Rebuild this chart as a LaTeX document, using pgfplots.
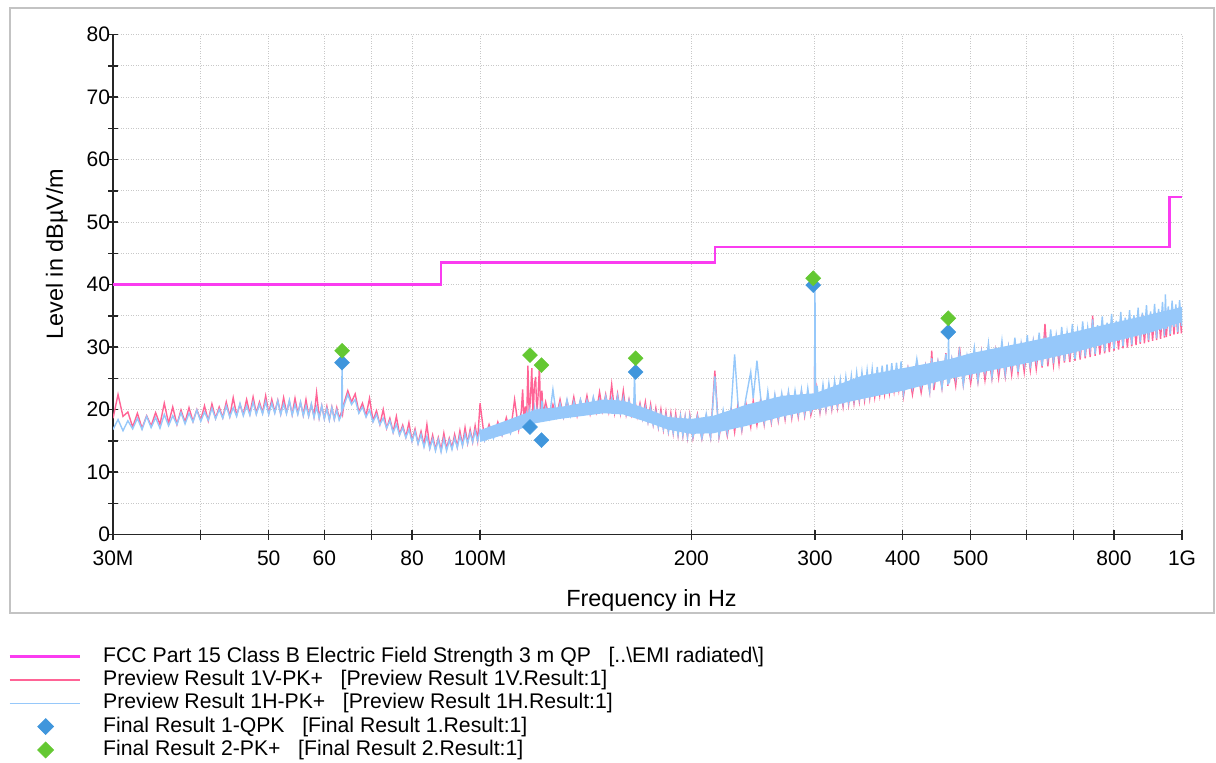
\documentclass[border=0pt]{standalone}
\usepackage{fontspec}
\setmainfont{Liberation Sans}
\usepackage{pgfplots}
\usepackage{pgfplotstable}
\pgfplotsset{compat=1.18}

\definecolor{limitc}{RGB}{250,60,240}
\definecolor{vcol}{RGB}{255,100,150}
\definecolor{hcol}{RGB}{150,200,250}
\definecolor{qpk}{RGB}{64,150,220}
\definecolor{pkc}{RGB}{100,200,50}
\definecolor{gridc}{RGB}{200,200,200}
\definecolor{framec}{RGB}{195,195,195}

% preview scans, f in MHz, v = 1V-PK+, h = 1H-PK+
\pgfplotstableread{
f v h
30.0 18.6 16.8
30.5 22.4 18.4
31.0 18.9 16.6
31.5 19.6 18.2
32.0 17.2 16.9
32.5 19.4 18.6
33.0 17.0 16.8
33.5 19.0 18.9
34.0 17.4 17.1
34.5 19.5 18.7
35.0 17.6 17.0
35.5 21.0 19.2
36.0 17.8 17.4
36.5 20.4 19.0
37.0 17.6 17.6
37.5 19.9 19.5
38.0 18.0 17.7
38.5 20.3 19.4
39.0 18.1 18.0
39.5 20.0 19.9
40.0 18.3 18.1
40.5 20.6 19.6
41.0 18.2 18.3
41.5 20.9 20.2
42.0 18.6 18.5
42.5 20.4 20.0
43.0 18.7 18.6
43.5 21.2 20.6
44.0 18.9 18.8
44.5 21.9 20.3
45.0 19.1 18.9
45.5 20.8 21.0
46.0 19.2 19.0
46.5 21.6 20.6
47.0 19.3 19.1
47.5 22.0 21.2
48.0 19.4 19.2
48.5 21.2 20.8
49.0 19.5 19.3
49.5 22.2 21.3
50.0 19.4 19.2
50.5 21.6 21.0
51.0 19.6 19.4
51.5 21.5 21.4
52.0 19.3 19.2
52.5 21.9 20.9
53.0 19.5 19.3
53.5 21.3 21.5
54.0 19.2 19.1
54.5 21.8 20.8
55.0 19.4 19.2
55.5 21.1 21.2
56.0 19.1 19.0
56.5 21.6 20.6
57.0 19.0 18.9
57.5 20.8 20.9
58.0 18.9 18.7
58.5 22.7 20.4
59.0 18.7 18.6
59.5 20.6 20.6
60.0 18.6 18.5
60.5 20.5 20.1
61.0 18.4 18.3
61.5 20.4 20.3
62.0 18.5 18.4
62.5 20.3 19.9
63.0 18.6 18.3
63.5 19.6 19.2
63.6 19.5 27.4
63.7 19.2 20.0
64.0 21.0 20.6
64.8 23.0 22.4
65.6 21.2 20.8
66.4 22.5 21.6
67.2 19.6 19.4
68.0 21.0 20.4
68.8 19.0 18.8
69.6 21.8 19.9
70.4 18.2 18.0
71.2 19.8 19.2
72.0 17.6 17.6
72.8 20.0 18.6
73.6 17.0 17.0
74.4 18.6 18.2
75.2 16.4 16.3
76.0 18.9 17.6
76.8 16.0 15.9
77.6 17.5 17.1
78.4 15.6 15.5
79.2 17.9 16.8
80.0 15.0 14.9
80.8 16.9 16.5
81.6 14.6 14.5
82.4 16.5 16.0
83.2 14.3 14.0
84.0 17.6 15.7
84.8 13.9 13.7
85.6 15.9 15.3
86.4 13.6 13.4
87.2 15.5 15.2
88.0 13.5 13.2
88.8 16.2 15.3
89.6 13.7 13.4
90.4 15.4 15.1
91.2 13.9 13.6
92.0 16.0 15.4
92.8 14.0 13.9
93.6 16.6 15.8
94.4 14.3 14.2
95.2 17.1 16.1
96.0 14.6 14.6
96.8 16.8 16.3
97.6 14.8 14.8
98.4 17.4 16.6
99.2 15.0 15.0
100.0 21.0 16.8
101.5 15.2 15.0
103.0 17.6 17.1
104.5 15.6 15.4
106.0 18.0 17.4
107.5 15.9 15.9
109.0 18.7 17.8
110.5 16.4 16.2
112.0 21.6 18.4
113.5 16.8 16.9
114.5 19.8 18.9
115.0 23.2 17.8
115.5 17.4 18.8
116.0 20.5 17.5
116.5 18.0 19.2
117.0 27.0 18.0
117.5 19.0 19.8
118.0 22.0 18.2
118.5 26.6 19.5
119.0 18.5 18.4
119.5 24.0 20.2
120.0 25.2 18.6
120.5 19.0 20.0
121.0 22.5 18.7
121.5 27.0 19.8
122.0 18.8 18.9
122.5 23.0 21.4
123.0 19.2 19.0
124.0 21.2 20.3
125.5 18.6 18.6
127.0 20.8 23.2
128.5 18.9 18.9
130.0 21.6 21.0
131.5 18.8 18.8
133.0 21.4 21.6
134.5 19.2 19.0
136.0 22.0 21.3
137.5 19.0 19.3
139.0 21.5 21.6
140.5 19.6 19.5
142.0 22.2 21.5
143.5 19.3 19.5
145.0 21.8 22.0
146.5 19.6 19.7
148.0 22.8 21.6
149.5 19.8 19.8
151.0 22.4 22.1
152.5 19.7 19.8
154.0 24.0 21.8
155.5 19.5 19.6
157.0 22.5 22.2
158.5 19.4 19.5
160.0 23.0 21.9
161.5 19.2 19.3
163.0 21.6 21.4
164.5 19.0 19.1
165.5 19.8 19.5
166.0 20.2 26.0
166.5 21.0 19.6
167.5 18.9 18.9
169.0 21.0 20.6
170.5 18.6 18.5
172.0 21.2 20.4
173.5 18.1 18.0
175.0 20.8 20.2
176.5 17.6 17.6
178.0 20.2 19.6
179.5 17.2 17.2
181.0 20.0 19.3
182.5 16.8 16.9
184.0 19.6 19.0
185.5 16.5 16.5
187.0 19.4 18.8
188.5 16.2 16.3
190.0 19.3 18.6
191.5 15.9 16.0
193.0 19.0 18.9
194.5 15.8 15.9
196.0 18.8 18.7
197.5 15.6 15.7
199.0 19.1 18.8
201 15.4 15.6
204 19.2 18.9
207 15.3 15.4
210 19.0 19.3
213 15.5 15.6
216 26.2 25.3
219 15.6 15.8
222 19.4 19.9
225 15.8 16.2
228 20.0 20.6
230.5 16.4 28.8
233 20.8 21.0
236 16.6 16.9
239 21.2 21.6
243 17.2 26.0
245 21.4 21.8
248 17.5 27.8
251 21.6 22.0
254 17.6 18.0
257 21.8 22.9
260 17.9 18.3
263 22.0 22.4
266 18.2 18.6
269 22.1 22.6
272 18.4 18.9
275 22.5 22.9
278 18.6 19.1
281 22.3 23.0
284 18.8 19.3
287 22.8 23.2
290 19.0 19.4
293 22.6 23.4
296 19.1 19.6
299.5 21.5 21.5
300.0 32.8 40.0
300.5 20.0 20.2
302 23.2 23.8
305 19.5 20.0
308 23.0 24.0
311 19.8 20.2
314 23.4 24.2
317 20.0 20.5
320 23.8 24.6
323 20.3 20.8
326 24.0 24.8
329 20.5 21.1
332 24.3 25.2
335 20.8 21.3
338 24.6 25.4
341 21.0 21.6
344 24.4 25.9
347 21.3 21.9
350 25.0 26.0
353 21.5 22.2
356 25.2 26.3
359 21.8 22.4
362 25.5 26.5
365 22.0 22.6
368 25.3 26.8
371 22.3 22.9
374 25.9 27.0
377 22.5 23.1
380 26.0 27.2
383 22.7 23.3
386 26.3 27.4
389 23.0 23.5
392 26.2 27.5
395 23.2 23.8
398 26.5 27.7
401 22.1 22.5
407 26.6 26.6
413 22.4 23.4
419 26.9 28.1
425 22.7 23.6
431 27.0 27.0
437 22.9 22.9
440 29.4 28.2
443 23.1 24.2
449 27.6 27.7
455 23.4 23.5
461 29.0 28.9
464 23.8 24.0
465 26.0 32.4
466 24.3 24.2
470 27.9 28.1
476 23.8 24.9
482 30.0 29.3
488 24.0 24.0
494 28.2 28.6
500 24.2 25.3
506 28.5 29.9
512 24.4 24.6
518 29.2 29.2
524 24.7 25.9
530 28.8 30.6
536 24.9 25.2
542 29.4 29.5
548 25.1 26.4
554 29.4 31.0
560 25.3 25.7
566 29.8 30.1
572 25.6 26.8
578 30.2 31.5
584 25.8 26.0
590 30.1 30.6
596 26.0 27.3
602 30.4 31.9
608 26.3 26.6
614 30.7 31.0
620 26.5 27.8
626 30.6 32.3
632 26.7 27.0
638 33.7 31.2
644 26.9 28.1
650 31.4 32.8
656 27.1 27.4
662 31.3 31.9
668 27.3 28.6
674 31.8 33.2
680 27.5 27.8
686 31.9 32.4
692 27.6 29.0
698 32.0 33.7
704 27.8 28.1
710 32.2 32.6
716 28.0 29.3
722 32.6 34.1
728 28.2 28.5
734 32.5 33.1
740 28.4 29.8
746 35.0 34.4
752 28.6 28.9
758 33.0 33.5
764 28.8 30.2
770 33.4 34.9
776 29.0 29.3
782 33.3 33.9
788 29.2 30.6
794 33.7 35.3
800 29.4 29.7
806 33.8 34.2
812 29.6 31.0
818 34.3 35.6
824 29.8 30.1
830 34.0 34.7
836 29.9 31.3
842 34.4 35.9
848 30.1 30.4
854 34.6 35.1
860 30.3 31.7
866 34.5 36.3
872 30.5 30.8
878 35.2 35.5
884 30.6 32.0
890 35.0 36.7
896 30.8 31.1
902 35.3 35.7
908 31.0 32.4
914 35.4 36.9
920 31.1 31.4
926 35.6 36.1
932 31.3 32.7
938 35.5 37.2
944 31.5 31.8
947 35.8 38.4
950 31.6 32.9
956 36.0 36.5
962 31.8 32.1
968 36.2 37.4
974 32.0 33.2
980 36.1 36.8
986 32.1 32.4
992 36.4 37.5
998 32.2 33.4
1000 34.0 35.0
}\noise

\begin{document}
\begin{tikzpicture}
\path[use as bounding box] (0pt,0pt) rectangle (608pt,381pt);
\draw[framec, line width=1pt] (5pt,74.5pt) rectangle (607pt,377pt);
\begin{axis}[
  at={(56.5pt,113.75pt)}, anchor=south west,
  scale only axis, width=534.5pt, height=250pt,
  xmode=log, xmin=30, xmax=1000, ymin=0, ymax=80,
  axis lines*=left,
  axis line style={black!85, line width=0.75pt},
  tick style={black!85, line width=0.75pt},
  tick align=center, major tick length=5pt, minor tick length=5pt,
  xtick={30,40,50,60,70,80,100,200,300,400,500,600,700,800,1000},
  xticklabels={30M,,50,60,,80,100M,200,300,400,500,,,800,1G},
  xminorticks=false,
  ytick={0,10,...,80},
  yticklabels={0,10,20,30,40,50,60,70,80},
  minor ytick={5,15,...,75},
  xmajorgrids, ymajorgrids, yminorgrids,
  major grid style={gridc, line width=0.5pt, dash pattern=on 0.5pt off 0.75pt},
  minor grid style={gridc, line width=0.5pt, dash pattern=on 0.5pt off 0.75pt},
  tick label style={font=\fontsize{10.5}{12}\selectfont},
  xticklabel style={yshift=-2.3pt},
  yticklabel style={xshift=4.5pt},
  xlabel={Frequency in Hz},
  ylabel={Level in dBµV/m},
  label style={font=\fontsize{11.7}{14}\selectfont},
  xlabel style={at={(axis description cs:0.5037,-0.143)}, anchor=base},
  ylabel style={at={(axis description cs:-0.0468,0.561)}, anchor=base},
  legend style={at={(axis description cs:-0.0982,-0.2234)}, anchor=north west,
    draw=none, fill=none, inner sep=0pt, outer sep=0pt, row sep=1.15pt,
    font=\fontsize{10.6}{12}\selectfont,
    nodes={inner sep=0pt, text height=8pt, text depth=2.5pt},
    /tikz/every odd column/.append style={column sep=11pt}},
  legend cell align=left,
  legend image code/.code={\draw[mark repeat=2, mark phase=2, #1] plot coordinates {(0pt,0pt) (18pt,0pt) (35pt,0pt)};},
]
\addplot[limitc, line width=1.25pt, forget plot] coordinates {
  (30,40) (88,40) (88,43.5) (216,43.5) (216,46) (960,46) (960,54) (1000,54)};
\addplot[vcol, line width=0.7pt, forget plot] table[x=f, y=v] {\noise};
\addplot[draw=none, fill=hcol, forget plot] coordinates {
  (100,16.7) (110,18.4) (120,20.0) (130,20.4) (150,21.6) (160,21.4) (175,19.9)
  (185,18.8) (200,18.5) (215,19.0) (240,20.8) (270,22.2) (300,22.6) (350,25.4)
  (400,26.6) (465,28.0) (500,29.0) (600,30.8) (700,32.4) (800,33.9) (900,35.2)
  (1000,36.4) (1000,34.0) (900,32.3) (800,30.9) (700,29.1) (600,27.4) (500,25.6)
  (465,24.9) (400,23.0) (350,21.7) (300,20.0) (270,18.9) (240,17.4) (215,16.2)
  (200,16.1) (185,16.8) (175,17.8) (160,19.2) (150,19.4) (130,18.5) (120,17.8)
  (110,16.2) (100,14.8)} -- cycle;
\addplot[hcol, line width=0.7pt, forget plot] table[x=f, y=h] {\noise};
\addplot[only marks, mark=square*, mark size=2.65pt,
  mark options={rotate=45, fill=qpk, draw=qpk, line width=0.2pt}, forget plot] coordinates {
  (63.6,27.5) (117.8,17.2) (122.3,15.1) (166.6,26.0) (298.3,39.9) (464.5,32.4)};
\addplot[only marks, mark=square*, mark size=2.65pt,
  mark options={rotate=45, fill=pkc, draw=pkc, line width=0.2pt}, forget plot] coordinates {
  (63.6,29.4) (117.8,28.7) (122.3,27.1) (166.6,28.2) (298.3,41.0) (464.5,34.6)};

\addlegendimage{limitc, line width=1.6pt}
\addlegendentry{FCC Part 15 Class B Electric Field Strength 3 m QP\ \ \ [..\textbackslash EMI radiated\textbackslash]}
\addlegendimage{vcol, line width=0.6pt}
\addlegendentry{Preview Result 1V-PK+\ \ \ [Preview Result 1V.Result:1]}
\addlegendimage{hcol, line width=0.8pt}
\addlegendentry{Preview Result 1H-PK+\ \ \ [Preview Result 1H.Result:1]}
\addlegendimage{only marks, mark=square*, mark size=2.8pt, mark options={rotate=45, fill=qpk, draw=qpk}}
\addlegendentry{Final Result 1-QPK\ \ \ [Final Result 1.Result:1]}
\addlegendimage{only marks, mark=square*, mark size=2.8pt, mark options={rotate=45, fill=pkc, draw=pkc}}
\addlegendentry{Final Result 2-PK+\ \ \ [Final Result 2.Result:1]}
\end{axis}
\end{tikzpicture}
\end{document}
